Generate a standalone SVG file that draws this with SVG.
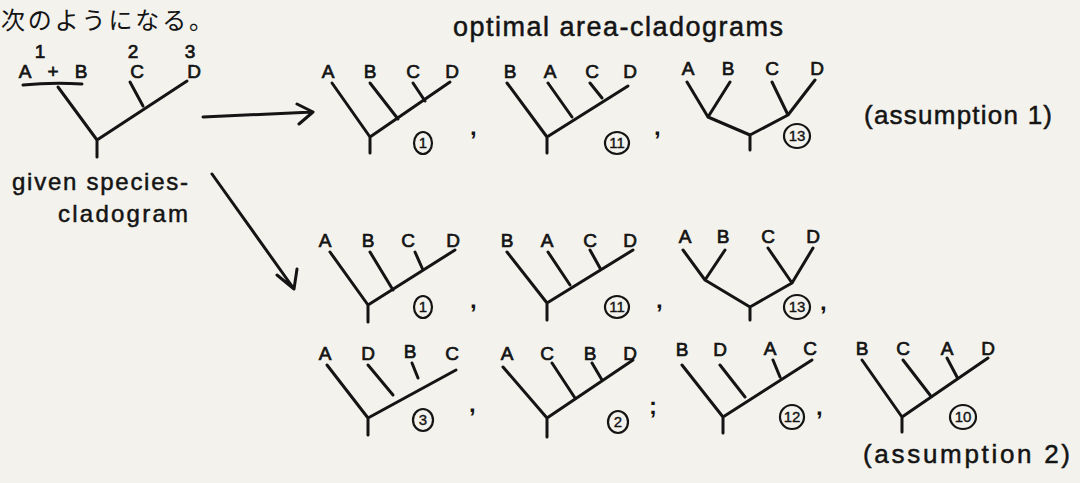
<svg xmlns="http://www.w3.org/2000/svg" width="1080" height="483" viewBox="0 0 1080 483">
<defs>
<style>
.ink{stroke:#141414;stroke-width:3;stroke-linecap:round;stroke-linejoin:round;fill:none}
.lbl{font-family:"Liberation Sans",Arial,sans-serif;font-size:19px;fill:#141414;stroke:#141414;stroke-width:0.7;text-anchor:middle}
.hw{font-family:"Liberation Sans",Arial,sans-serif;fill:#141414;stroke:#141414;stroke-width:0.5}
.circ{stroke:#141414;stroke-width:2.2;fill:none}
.cn{font-family:"Liberation Sans",Arial,sans-serif;font-size:15px;fill:#141414;stroke:#141414;stroke-width:0.4;text-anchor:middle}
.pn{font-family:"Liberation Sans",Arial,sans-serif;font-size:24px;fill:#141414;font-weight:bold}
</style>
</defs>
<rect width="1080" height="483" fill="#f3f2ec"/>

<text x="1" y="29" font-family="'Noto Sans CJK JP',sans-serif" font-size="24" fill="#141414" textLength="212">次のようになる。</text>

<g id="species-cladogram">
<text class="lbl" x="40" y="58" font-size="17">1</text>
<text class="lbl" x="133" y="58" font-size="17">2</text>
<text class="lbl" x="190" y="58" font-size="17">3</text>
<text class="lbl" x="25" y="78">A</text>
<text class="lbl" x="53" y="78">+</text>
<text class="lbl" x="81" y="78">B</text>
<text class="lbl" x="137" y="78">C</text>
<text class="lbl" x="194" y="78">D</text>
<path class="ink" d="M23,85 Q52,82 82,84"/>
<path class="ink" d="M58,87 L97,140 L187,81 M97,140 L97,157 M130,82 L143,106"/>
<text class="hw" x="12" y="190" font-size="24" textLength="176">given species-</text>
<text class="hw" x="58" y="222" font-size="24" textLength="130">cladogram</text>
</g>

<g id="connectors">
<path class="ink" d="M203,117 L313,112 M297,104 L313,112 L299,124"/>
<path class="ink" d="M212,174 L294,289 M277,275 L294,289 L297,269"/>
</g>

<text class="hw" x="453" y="36" font-size="27" textLength="330">optimal area-cladograms</text>

<g id="tree-1a">
<text class="lbl" x="328" y="78">A</text><text class="lbl" x="370" y="78">B</text><text class="lbl" x="413" y="78">C</text><text class="lbl" x="452" y="78">D</text>
<path class="ink" d="M332,83 L370,137 L450,82 M370,137 L370,153 M370,83 L398,119 M413,83 L425,101"/>
<ellipse class="circ" cx="423" cy="143" rx="9" ry="11"/><text class="cn" x="423" y="148">1</text>
<text class="pn" x="470" y="135">,</text>
</g>

<g id="tree-11a">
<text class="lbl" x="510" y="78">B</text><text class="lbl" x="550" y="78">A</text><text class="lbl" x="592" y="78">C</text><text class="lbl" x="630" y="78">D</text>
<path class="ink" d="M507,83 L547,137 L628,86 M547,137 L547,153 M548,83 L572,117 M590,83 L602,98"/>
<ellipse class="circ" cx="617" cy="143" rx="12" ry="11"/><text class="cn" x="617" y="148">11</text>
<text class="pn" x="654" y="135">,</text>
</g>

<g id="tree-13a">
<text class="lbl" x="688" y="75">A</text><text class="lbl" x="728" y="75">B</text><text class="lbl" x="772" y="75">C</text><text class="lbl" x="817" y="75">D</text>
<path class="ink" d="M687,82 L708,117 L730,82 M708,117 L750,135 L788,115 M772,82 L788,115 L815,80 M750,135 L750,150"/>
<ellipse class="circ" cx="797" cy="136" rx="13" ry="12"/><text class="cn" x="797" y="141">13</text>
</g>
<text class="hw" x="864" y="124" font-size="26" textLength="188">(assumption 1)</text>

<g id="tree-1b">
<text class="lbl" x="325" y="247">A</text><text class="lbl" x="368" y="247">B</text><text class="lbl" x="408" y="247">C</text><text class="lbl" x="453" y="247">D</text>
<path class="ink" d="M330,252 L368,305 L455,250 M368,305 L368,322 M370,252 L393,290 M415,252 L423,270"/>
<ellipse class="circ" cx="423" cy="307" rx="9" ry="11"/><text class="cn" x="423" y="312">1</text>
<text class="pn" x="470" y="308">,</text>
</g>

<g id="tree-11b">
<text class="lbl" x="507" y="247">B</text><text class="lbl" x="547" y="247">A</text><text class="lbl" x="590" y="247">C</text><text class="lbl" x="630" y="247">D</text>
<path class="ink" d="M507,252 L547,303 L633,250 M547,303 L547,320 M548,252 L570,285 M590,250 L600,268"/>
<ellipse class="circ" cx="617" cy="307" rx="12" ry="11"/><text class="cn" x="617" y="312">11</text>
<text class="pn" x="656" y="308">,</text>
</g>

<g id="tree-13b">
<text class="lbl" x="685" y="243">A</text><text class="lbl" x="723" y="243">B</text><text class="lbl" x="768" y="243">C</text><text class="lbl" x="813" y="243">D</text>
<path class="ink" d="M683,250 L705,280 L725,250 M705,280 L750,307 L792,283 M768,248 L792,283 L813,248 M750,307 L750,320"/>
<ellipse class="circ" cx="797" cy="307" rx="13" ry="12"/><text class="cn" x="797" y="312">13</text>
<text class="pn" x="820" y="310">,</text>
</g>

<g id="tree-3">
<text class="lbl" x="325" y="360">A</text><text class="lbl" x="368" y="360">D</text><text class="lbl" x="410" y="358">B</text><text class="lbl" x="452" y="360">C</text>
<path class="ink" d="M327,365 L368,418 L456,370 M368,418 L368,435 M368,365 L393,395 M412,363 L418,378"/>
<ellipse class="circ" cx="423" cy="420" rx="10" ry="11"/><text class="cn" x="423" y="425">3</text>
<text class="pn" x="469" y="412">,</text>
</g>

<g id="tree-2">
<text class="lbl" x="507" y="360">A</text><text class="lbl" x="547" y="360">C</text><text class="lbl" x="590" y="360">B</text><text class="lbl" x="630" y="360">D</text>
<path class="ink" d="M503,367 L547,418 L633,360 M547,418 L547,437 M552,363 L575,398 M592,363 L602,380"/>
<ellipse class="circ" cx="618" cy="422" rx="10" ry="11"/><text class="cn" x="618" y="427">2</text>
<text class="pn" x="649" y="414">;</text>
</g>

<g id="tree-12">
<text class="lbl" x="682" y="356">B</text><text class="lbl" x="720" y="356">D</text><text class="lbl" x="770" y="355">A</text><text class="lbl" x="810" y="355">C</text>
<path class="ink" d="M682,365 L723,417 L812,360 M723,417 L723,433 M720,365 L745,397 M773,360 L780,377"/>
<ellipse class="circ" cx="792" cy="417" rx="12" ry="12"/><text class="cn" x="792" y="422">12</text>
<text class="pn" x="816" y="415">,</text>
</g>

<g id="tree-10">
<text class="lbl" x="862" y="355">B</text><text class="lbl" x="903" y="355">C</text><text class="lbl" x="947" y="355">A</text><text class="lbl" x="988" y="355">D</text>
<path class="ink" d="M862,360 L902,417 L988,358 M902,417 L902,432 M903,360 L930,395 M947,358 L957,377"/>
<ellipse class="circ" cx="963" cy="417" rx="13" ry="12"/><text class="cn" x="963" y="422">10</text>
</g>
<text class="hw" x="863" y="463" font-size="26" textLength="207">(assumption 2)</text>
</svg>
